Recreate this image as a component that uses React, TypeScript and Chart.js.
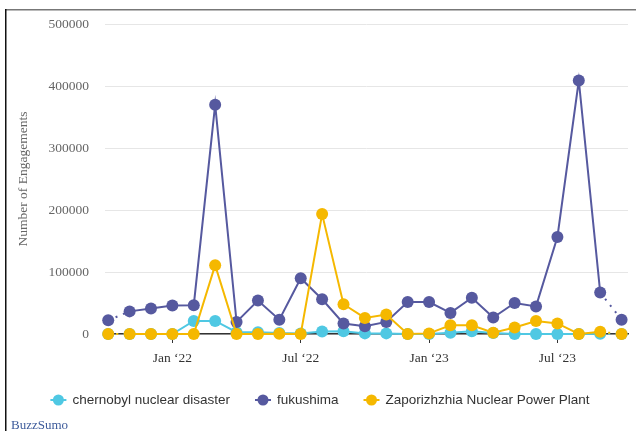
import React, { useEffect, useRef } from "react";
import { Chart, registerables } from "chart.js";
Chart.register(...registerables);

const months = [
  "Oct 2021", "Nov 2021", "Dec 2021", "Jan 2022", "Feb 2022", "Mar 2022", "Apr 2022",
  "May 2022", "Jun 2022", "Jul 2022", "Aug 2022", "Sep 2022", "Oct 2022", "Nov 2022",
  "Dec 2022", "Jan 2023", "Feb 2023", "Mar 2023", "Apr 2023", "May 2023", "Jun 2023",
  "Jul 2023", "Aug 2023", "Sep 2023", "Oct 2023",
];
const tickIndex = [3, 9, 15, 21];
const tickLabels = ["Jan \u201822", "Jul \u201822", "Jan \u201823", "Jul \u201823"];

const chernobyl = [0, 0, 0, 0, 21000, 21000, 3000, 3000, 1500, 1000, 4000, 4500, 1000, 1000, 0, 0, 2000, 4500, 1500, 0, 0, 0, 0, 500, 0];
const fukushima = [22000, 36500, 41000, 46000, 46500, 370000, 19500, 54000, 23000, 90000, 56000, 17000, 12500, 19500, 51500, 51500, 34000, 58500, 26500, 50000, 44500, 156500, 409000, 67000, 23000];
const zaporizhzhia = [0, 0, 0, 0, 0, 111000, 0, 0, 500, 0, 193500, 48000, 26000, 31500, 0, 1000, 14000, 14000, 2000, 10500, 21000, 17000, 0, 3500, 0];

const seriesNames = ["chernobyl nuclear disaster", "fukushima", "Zaporizhzhia Nuclear Power Plant"];
const seriesColors = ["#4fc8e3", "#56599f", "#f5b800"];
const yMax = 500000;
const yStep = 100000;
const yTitle = "Number of Engagements";
const sourceLabel = "BuzzSumo";

export default function App() {
  const ref = useRef<HTMLCanvasElement>(null);
  useEffect(() => {
    document.body.style.margin = "0";
    const canvas = ref.current!;
    const n = months.length;
    const mk = (name: string, values: number[], color: string, order: number) => ({
      label: name,
      data: values.map((v, i) => ({ x: i, y: v })),
      borderColor: color,
      backgroundColor: color,
      pointBackgroundColor: color,
      pointBorderColor: color,
      pointRadius: 6,
      pointBorderWidth: 0,
      pointHoverRadius: 6,
      borderWidth: 2,
      tension: 0,
      clip: false,
      order,
      segment: {
        borderDash: (c: any) =>
          c.p0DataIndex === 0 || c.p1DataIndex === n - 1 ? [2, 6] : undefined,
      },
    });

    const decor = {
      id: "decor",
      afterDraw(chart: any) {
        const ctx = chart.ctx as CanvasRenderingContext2D;
        ctx.save();
        // frame
        ctx.fillStyle = "#777";
        ctx.fillRect(5, 9, 636, 1.5);
        ctx.fillStyle = "#111";
        ctx.fillRect(5, 9, 1.5, 431);
        // legend
        ctx.font = "13.5px 'Liberation Sans', Arial, sans-serif";
        ctx.textBaseline = "middle";
        const sym = 16, gapText = 6, gapItem = 25;
        const widths = seriesNames.map((s) => ctx.measureText(s).width);
        const total = widths.reduce((a, w) => a + sym + gapText + w, 0) + gapItem * (seriesNames.length - 1);
        let x = 320 - total / 2;
        const y = 400;
        seriesNames.forEach((s, i) => {
          ctx.strokeStyle = seriesColors[i];
          ctx.lineWidth = 2;
          ctx.beginPath();
          ctx.moveTo(x, y);
          ctx.lineTo(x + sym, y);
          ctx.stroke();
          ctx.fillStyle = seriesColors[i];
          ctx.beginPath();
          ctx.arc(x + sym / 2, y, 5.5, 0, Math.PI * 2);
          ctx.fill();
          ctx.fillStyle = "#333";
          ctx.textAlign = "left";
          ctx.fillText(s, x + sym + gapText, y + 0.5);
          x += sym + gapText + widths[i] + gapItem;
        });
        // source
        ctx.font = "13px 'Liberation Serif', 'Times New Roman', serif";
        ctx.fillStyle = "#3c5a9a";
        ctx.textBaseline = "alphabetic";
        ctx.fillText(sourceLabel, 11, 429);
        ctx.restore();
      },
    };

    const chart = new Chart(canvas, {
      type: "line",
      data: {
        datasets: [
          mk(seriesNames[0], chernobyl, seriesColors[0], 2),
          mk(seriesNames[1], fukushima, seriesColors[1], 1),
          mk(seriesNames[2], zaporizhzhia, seriesColors[2], 0),
        ] as any,
      },
      options: {
        animation: false,
        responsive: true,
        maintainAspectRatio: false,
        events: [],
        layout: { padding: { top: 20, right: 8, bottom: 57, left: 0 } },
        plugins: { legend: { display: false }, tooltip: { enabled: false } },
        scales: {
          x: {
            type: "linear",
            min: -0.15,
            max: 24.3,
            afterFit: (s: any) => { s.height = 40; },
            afterBuildTicks: (s: any) => { s.ticks = tickIndex.map((v) => ({ value: v })); },
            ticks: {
              autoSkip: false,
              maxRotation: 0,
              padding: 7,
              color: "#333",
              font: { family: "'Liberation Serif', 'Times New Roman', serif", size: 13.5 },
              callback: (v: any) => tickLabels[tickIndex.indexOf(v)] ?? "",
            },
            grid: { drawOnChartArea: false, drawTicks: true, tickLength: 9, color: "#333", lineWidth: 1 },
            border: { display: true, color: "#333", width: 1.5 },
          },
          y: {
            min: 0,
            max: yMax,
            afterFit: (s: any) => { s.width = 105; },
            ticks: {
              stepSize: yStep,
              padding: 16,
              color: "#666",
              font: { family: "'Liberation Serif', 'Times New Roman', serif", size: 13.5 },
              callback: (v: any) => String(v),
            },
            grid: { color: "#e6e6e6", lineWidth: 1, drawTicks: false },
            border: { display: false },
            title: {
              display: true,
              text: yTitle,
              color: "#666",
              font: { family: "'Liberation Serif', 'Times New Roman', serif", size: 13.5 },
              padding: { top: 15, bottom: 0 },
            },
          },
        },
      },
      plugins: [decor],
    } as any);
    return () => chart.destroy();
  }, []);
  return (
    <div style={{ width: 636, height: 431, position: "relative" }}>
      <canvas ref={ref} style={{ display: "block" }} />
    </div>
  );
}
